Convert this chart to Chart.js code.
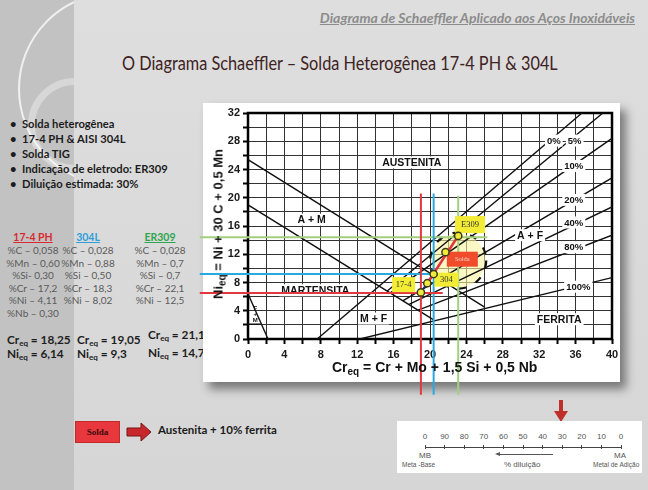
<!DOCTYPE html>
<html lang="pt">
<head>
<meta charset="utf-8">
<script src="https://cdn.jsdelivr.net/npm/chart.js@4.4.1/dist/chart.umd.min.js"></script>
<style>
  body { margin: 0; width: 648px; height: 490px; overflow: hidden; position: relative;
         background: linear-gradient(#dedede, #d6d6d6); font-family: Lato, 'Open Sans', sans-serif; }
  .abs { position: absolute; white-space: nowrap; }
  #strip { left: 0; top: 0; width: 74px; height: 490px; background: #c2c2c2; overflow: hidden; }
  .ring { position: absolute; border-radius: 50%; }
  #hdr { right: 13px; top: 9px; font: italic 700 14px Lato; color: #8c8c8c; text-decoration: underline; }
  #title { left: 122px; top: 52px; font: 400 18.5px Lato; color: #3e2323; transform: scaleX(0.88); transform-origin: left center; }
  .bul { left: 22px; font: 700 11.2px Lato; color: #1c1c1c; }
  .bul::before { content: '•'; position: absolute; left: -12px; }
  .comp { font: 400 10px Lato; color: #5a5a5a; text-align: center; width: 60px; }
  .hd { font: 700 10.5px Lato; text-decoration: underline; text-align: center; width: 60px; }
  .eq { font: 700 11.8px Lato; color: #1e1e1e; }
  .eq sub { font-size: 8px; vertical-align: -2px; }
  #box { left: 203px; top: 103px; width: 417px; height: 279px; background: #fff;
         box-shadow: 6px 7px 9px rgba(0,0,0,0.45); z-index: 1; }
  #chart { position: absolute; left: 190px; top: 98px; z-index: 2; }
  .axt { font: 700 14px 'Liberation Sans', Arial, sans-serif; color: #111; z-index: 3; }
  .axt sub { font-size: 10px; vertical-align: -3px; }
  #ruler { left: 397px; top: 421px; width: 245px; height: 52px; background: #fff; }
  .rl { font: 400 8px 'Liberation Sans Narrow', 'Liberation Sans', sans-serif; color: #555; }
</style>
</head>
<body>
<div class="abs" id="strip">
  <div class="ring" style="left:18px; top:-8px; width:190px; height:190px; border:2px solid rgba(255,255,255,0.75);"></div>
  <div class="ring" style="left:28px; top:78px; width:80px; height:80px; border:7px solid rgba(255,255,255,0.35);"></div>
</div>

<div class="abs" id="hdr">Diagrama de Schaeffler Aplicado aos Aços Inoxidáveis</div>
<div class="abs" id="title">O Diagrama Schaeffler – Solda Heterogênea 17-4 PH &amp; 304L</div>

<div class="abs bul" style="top:117px">Solda heterogênea</div>
<div class="abs bul" style="top:132px">17-4 PH &amp; AISI 304L</div>
<div class="abs bul" style="top:147px">Solda TIG</div>
<div class="abs bul" style="top:162px">Indicação de eletrodo: ER309</div>
<div class="abs bul" style="top:177px">Diluição estimada: 30%</div>

<div id="compo"></div>

<div class="abs eq" style="left:7px; top:332px">Cr<sub>eq</sub> = 18,25</div>
<div class="abs eq" style="left:7px; top:346px">Ni<sub>eq</sub> = 6,14</div>
<div class="abs eq" style="left:77px; top:332px">Cr<sub>eq</sub> = 19,05</div>
<div class="abs eq" style="left:77px; top:346px">Ni<sub>eq</sub> = 9,3</div>
<div class="abs eq" style="left:148px; top:327px">Cr<sub>eq</sub> = 21,1</div>
<div class="abs eq" style="left:148px; top:345px">Ni<sub>eq</sub> = 14,7</div>

<div class="abs" id="box"></div>
<canvas id="chart" width="452" height="302"></canvas>
<div class="abs axt" style="left:332px; top:359px">Cr<sub>eq</sub> = Cr + Mo + 1,5 Si + 0,5 Nb</div>
<div class="abs axt" style="left:219px; top:224px; transform:translate(-50%,-50%) rotate(-90deg); font-size:13px">Ni<sub>eq</sub> = Ni + 30 C + 0,5 Mn</div>

<div class="abs" style="left:75px; top:421px; width:43px; height:20px; background:#e8383d; border:1px solid #c02a2a; font:700 9px 'Liberation Serif', serif; color:#3d0a0a; text-align:center; line-height:20px">Solda</div>
<svg class="abs" style="left:126px; top:422px" width="26" height="20">
  <polygon points="1,6 15,6 15,1 25,10 15,19 15,14 1,14" fill="#c8282d" stroke="#7a1515" stroke-width="1"/>
</svg>
<div class="abs" style="left:158px; top:423px; font:700 11.5px Lato; color:#1a1a1a">Austenita + 10% ferrita</div>

<svg class="abs" style="left:553px; top:400px" width="16" height="23">
  <rect x="6" y="0" width="4" height="12" fill="#c0302a"/>
  <polygon points="1,11 15,11 8,22" fill="#c0302a"/>
</svg>
<div class="abs" id="ruler"></div>

<script>
const crTicks = [0, 4, 8, 12, 16, 20, 24, 28, 32, 36, 40];
const niTicks = [0, 4, 8, 12, 16, 20, 24, 28, 32];

// linhas do diagrama de Schaeffler (início, fim)
const lineCr = [[0, 26], [0, 20.4], [0, 2.2], [0, 1.4], [7.6, 36.7], [15.3, 39], [15.6, 40], [17, 40], [17.7, 40], [18.7, 40], [12.3, 40]];
const lineNi = [[25.4, 4.5], [19, 2.7], [6.4, 0], [2.1, 2.1], [0, 32], [6.8, 32], [6.5, 28.4], [5.4, 22.8], [4.9, 18.7], [4.1, 14.7], [0, 8.7]];

// regiões
const regionNames = ['AUSTENITA', 'A + M', 'A + F', 'MARTENSITA', 'M + F', 'FERRITA'];
const regionCr = [18.0, 7.0, 31.0, 7.4, 13.8, 34.2];
const regionNi = [25.0, 16.9, 14.7, 6.9, 2.9, 2.8];

// % de ferrita
const ferriteLabels = ['0%', '5%', '10%', '20%', '40%', '80%', '100%'];
const ferriteCr = [33.6, 35.9, 35.8, 35.8, 35.8, 35.8, 36.3];
const ferriteNi = [28.1, 28.1, 24.5, 19.7, 16.5, 13.0, 7.4];

// pontos: 17-4, mistura, 304, solda, E309
const pointNames = ['17-4', 'mistura', '304', 'Solda', 'E309'];
const pointCr = [19.0, 19.7, 20.4, 21.7, 23.1];
const pointNi = [6.6, 7.9, 9.2, 12.3, 14.6];

// região destacada em volta da solda
const zoneCr = 23.1;
const zoneNi = 11.1;

// linhas guia coloridas (17-4, 304, ER309)
const guideCr = [19.0, 20.4, 23.1];
const guideNi = [6.5, 9.2, 14.4];
const guideTop = [20.6, 20.6, 20.3];
const guideEnd = [21.4, 22.2, 26.3];
const guideStart = -5.3;
const guideBottom = -7.9;

// etiquetas
const tagNames = ['17-4', '304', 'E309', 'Solda'];
const tagCr = [17.1, 21.8, 24.4, 23.55];
const tagNi = [7.7, 8.4, 16.2, 11.3];

// régua de diluição
const dilutionLabels = ['0', '90', '80', '70', '60', '50', '40', '30', '20', '10', '0'];

const guideColors = ['#e2393f', '#2aa8e0', '#a3d07e'];
const tagColors = ['#f3ec34', '#f3ec34', '#f3ec34', '#f04b2a'];
const tagSize = [[23, 15], [24, 14], [30, 17], [31, 15]];

// --- conjuntos de dados ---
const pt = i => ({ x: pointCr[i], y: pointNi[i] });
const datasets = [];
datasets.push({ data: pointNames.map((n, i) => pt(i)), showLine: false, pointRadius: 3.6,
    pointBackgroundColor: '#f2ea3a', pointBorderColor: '#3a3a1a', pointBorderWidth: 1.5 });
datasets.push({ data: [pt(1), pt(4)], showLine: true, borderColor: '#e4323b', borderWidth: 2.6, pointRadius: 0 });
datasets.push({ data: [pt(0), pt(2)], showLine: true, borderColor: '#1f2b5e', borderWidth: 2, pointRadius: 0 });
guideCr.forEach((c, i) => {
    datasets.push({ data: [{ x: c, y: guideTop[i] }, { x: c, y: guideBottom }, { x: NaN, y: NaN },
        { x: guideStart, y: guideNi[i] }, { x: guideEnd[i], y: guideNi[i] }],
        showLine: true, spanGaps: false, clip: false, borderColor: guideColors[i], borderWidth: 2, pointRadius: 0 });
});
lineCr.forEach((c, i) => {
    datasets.push({ data: [{ x: c[0], y: lineNi[i][0] }, { x: c[1], y: lineNi[i][1] }],
        showLine: true, borderColor: '#111', borderWidth: 1.4, pointRadius: 0 });
});

function labelBg(ctx, text, px, py, font) {
    ctx.font = font;
    const w = ctx.measureText(text).width;
    ctx.fillStyle = '#fff';
    ctx.fillRect(px - w / 2 - 2, py - 6, w + 4, 12);
    ctx.fillStyle = '#111';
    ctx.fillText(text, px, py + 0.5);
}

const decor = {
    id: 'decor',
    beforeDatasetsDraw(chart) {
        const { ctx, chartArea: a, scales: { x, y } } = chart;
        ctx.save();
        // realce amarelo da solda
        ctx.fillStyle = 'rgba(250, 243, 160, 0.6)';
        ctx.beginPath();
        ctx.arc(x.getPixelForValue(zoneCr), y.getPixelForValue(zoneNi), 27, 0, Math.PI * 2);
        ctx.fill();
        ctx.lineWidth = 2.5;
        ctx.strokeStyle = '#000';
        ctx.strokeRect(a.left, a.top, a.width, a.height);
        ctx.restore();
    },
    beforeDatasetDraw(chart, args) {
        const { ctx, scales: { x, y } } = chart;
        if (args.index === 5) {
            ctx.save();
            ctx.textAlign = 'center';
            ctx.textBaseline = 'middle';
            regionNames.forEach((n, i) => labelBg(ctx, n, x.getPixelForValue(regionCr[i]), y.getPixelForValue(regionNi[i]),
                'bold 10.5px "Liberation Sans", Arial'));
            ferriteLabels.forEach((n, i) => labelBg(ctx, n, x.getPixelForValue(ferriteCr[i]), y.getPixelForValue(ferriteNi[i]),
                'bold 9.5px "Liberation Sans", Arial'));
            ctx.font = 'bold 6px "Liberation Sans", Arial';
            ctx.fillStyle = '#111';
            ['F', '+', 'M'].forEach((t, k) => ctx.fillText(t, x.getPixelForValue(0.8), y.getPixelForValue(4.4) + k * 6));
            // círculo tracejado
            ctx.strokeStyle = '#111';
            ctx.lineWidth = 2.2;
            ctx.setLineDash([7, 11]);
            ctx.beginPath();
            ctx.arc(x.getPixelForValue(zoneCr), y.getPixelForValue(zoneNi), 28, 0, Math.PI * 2);
            ctx.stroke();
            ctx.restore();
        }
        if (args.index === 0) {
            ctx.save();
            ctx.textAlign = 'center';
            ctx.textBaseline = 'middle';
            tagNames.forEach((n, i) => {
                const px = x.getPixelForValue(tagCr[i]);
                const py = y.getPixelForValue(tagNi[i]);
                const [w, h] = tagSize[i];
                ctx.fillStyle = tagColors[i];
                ctx.fillRect(px - w / 2, py - h / 2, w, h);
                ctx.fillStyle = i === 3 ? '#f6d6c6' : '#333';
                ctx.font = (i === 3 ? '6.5px' : '8.5px') + ' "Liberation Serif", serif';
                ctx.fillText(n, px, py + 0.5);
            });
            ctx.restore();
        }
    }
};

const tickFont = { family: '"Liberation Sans", Arial', size: 11, weight: 'bold' };
new Chart(document.getElementById('chart'), {
    type: 'scatter',
    data: { datasets },
    options: {
        responsive: false,
        animation: false,
        layout: { padding: { left: 0, right: 30, top: 15, bottom: 0 } },
        plugins: { legend: { display: false }, tooltip: { enabled: false } },
        scales: {
            x: {
                type: 'linear', min: 0, max: 40,
                afterFit: s => { s.height = 61; },
                border: { display: false },
                grid: { color: '#333', lineWidth: 1, tickLength: 5, tickColor: '#000', tickWidth: 2 },
                ticks: { stepSize: 2, autoSkip: false, maxRotation: 0, padding: 4, color: '#1a1a1a', font: tickFont,
                    callback: v => crTicks.includes(v) ? v : '' }
            },
            y: {
                type: 'linear', min: 0, max: 32,
                afterFit: s => { s.width = 58; },
                border: { display: false },
                grid: { color: '#333', lineWidth: 1, tickLength: 5, tickColor: '#000', tickWidth: 2 },
                ticks: { stepSize: 2, autoSkip: false, padding: 3, color: '#1a1a1a', font: tickFont,
                    callback: v => niTicks.includes(v) ? v : '' }
            }
        }
    },
    plugins: [decor]
});

// --- composições químicas ---
const compHeads = ['17-4 PH', '304L', 'ER309'];
const compColors = ['#d92b2f', '#2e9fd8', '#2ea54e'];
const compCenters = [33, 88, 160];
const compRows = [
    ['%C – 0,058', '%Mn – 0,60', '%Si- 0,30', '%Cr – 17,2', '%Ni – 4,11', '%Nb – 0,30'],
    ['%C – 0,028', '%Mn – 0,88', '%Si – 0,50', '%Cr – 18,3', '%Ni – 8,02'],
    ['%C – 0,028', '%Mn – 0,7', '%Si – 0,7', '%Cr – 22,1', '%Ni – 12,5']
];
const compo = document.getElementById('compo');
compHeads.forEach((h, i) => {
    let html = `<div class="abs hd" style="left:${compCenters[i] - 30}px; top:231px; color:${compColors[i]}">${h}</div>`;
    compRows[i].forEach((r, k) => {
        html += `<div class="abs comp" style="left:${compCenters[i] - 30}px; top:${244 + k * 12.6}px">${r}</div>`;
    });
    compo.insertAdjacentHTML('beforeend', html);
});

// --- régua de diluição ---
const ruler = document.getElementById('ruler');
let rh = '';
dilutionLabels.forEach((l, i) => {
    const cx = 28 + i * 19.6;
    rh += `<div class="abs rl" style="left:${cx - 10}px; top:11px; width:20px; text-align:center">${l}</div>`;
    rh += `<div class="abs" style="left:${cx - 0.5}px; top:24px; width:1px; height:4px; background:#444"></div>`;
});
rh += `<div class="abs" style="left:28px; top:26px; width:196px; height:1px; background:#444"></div>`;
rh += `<div class="abs rl" style="left:22px; top:30px">MB</div>`;
rh += `<div class="abs rl" style="left:5px; top:40px; font-size:6.5px">Meta -Base</div>`;
rh += `<div class="abs rl" style="left:217px; top:30px">MA</div>`;
rh += `<div class="abs rl" style="left:196px; top:40px; font-size:6.5px">Metal de Adição</div>`;
rh += `<div class="abs" style="left:100px; top:33px; width:56px; height:1px; background:#555"></div>`;
rh += `<div class="abs" style="left:98px; top:31px; width:0; height:0; border-top:2.5px solid transparent; border-bottom:2.5px solid transparent; border-right:5px solid #555"></div>`;
rh += `<div class="abs rl" style="left:107px; top:39px">% diluição</div>`;
ruler.innerHTML = rh;
</script>
</body>
</html>
